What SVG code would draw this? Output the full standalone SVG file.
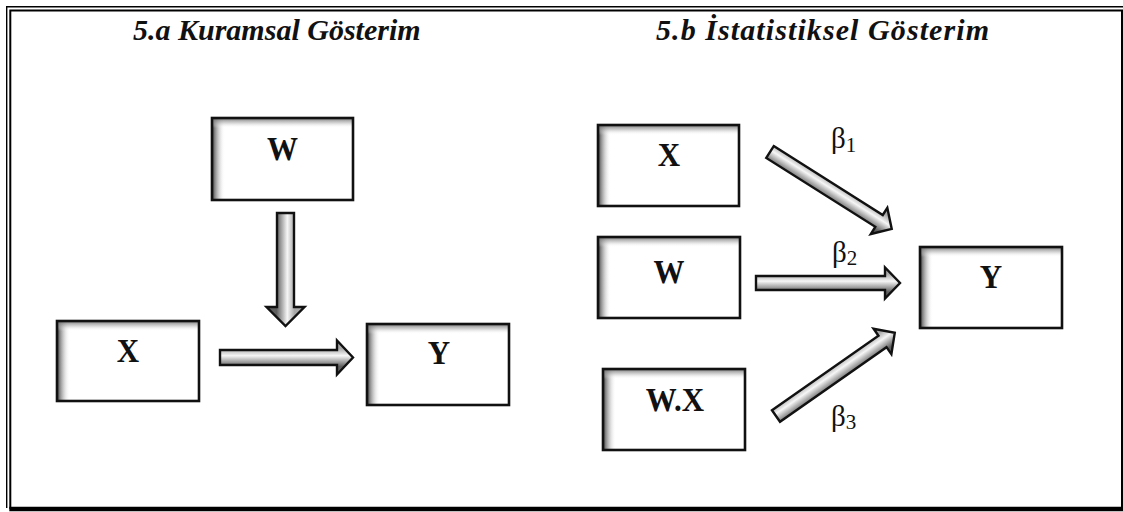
<svg xmlns="http://www.w3.org/2000/svg" width="1123" height="512" viewBox="0 0 1123 512">
  <style>
    .title { font-family: "Liberation Serif", "Times New Roman", serif; font-size: 30px; font-weight: bold; font-style: italic; fill: #111; }
    .lbl { font-family: "Liberation Serif", "Times New Roman", serif; font-size: 31px; font-weight: bold; fill: #111; text-anchor: middle; }
    .beta { font-family: "Liberation Serif", "Times New Roman", serif; font-size: 29px; fill: #111; }
    .sub { font-size: 21px; }
    .frame { fill: none; stroke: #000; }
    .box { fill: none; stroke: #111; stroke-width: 2.6; }
    .bg { fill: #fff; }
    .arrow { fill: url(#arrowFill); stroke: #111; stroke-width: 2.4; stroke-linejoin: miter; }
  </style>
  <defs>
    <linearGradient id="shadeL" x1="0" y1="0" x2="1" y2="0">
      <stop offset="0" stop-color="#333" stop-opacity="0.95"/>
      <stop offset="0.45" stop-color="#999" stop-opacity="0.6"/>
      <stop offset="1" stop-color="#fff" stop-opacity="0"/>
    </linearGradient>
    <linearGradient id="shadeT" x1="0" y1="0" x2="0" y2="1">
      <stop offset="0" stop-color="#666" stop-opacity="0.9"/>
      <stop offset="0.5" stop-color="#aaa" stop-opacity="0.5"/>
      <stop offset="1" stop-color="#fff" stop-opacity="0"/>
    </linearGradient>
    <!-- arrows are drawn pointing along +x, so this runs across the shaft -->
    <linearGradient id="arrowFill" gradientUnits="userSpaceOnUse" x1="0" y1="-9" x2="0" y2="9">
      <stop offset="0" stop-color="#a8a8a8"/>
      <stop offset="0.4" stop-color="#f6f6f6"/>
      <stop offset="1" stop-color="#5e5e5e"/>
    </linearGradient>
  </defs>

  <rect width="1123" height="512" fill="#fff"/>

  <!-- page border: thin outer line, thick inner line -->
  <path class="frame" stroke-width="1.4" d="M6.7,508 V6.7 H1123"/>
  <path class="frame" stroke-width="2" d="M10.3,509 V10.5 H1122 V509"/>
  <path class="frame" stroke-width="4.5" d="M9.3,509 H1123"/>

  <!-- titles -->
  <text class="title" x="133" y="40">5.a Kuramsal Gösterim</text>
  <text class="title" x="656" y="40" textLength="333" lengthAdjust="spacing">5.b İstatistiksel Gösterim</text>

  <!-- left panel nodes -->
  <g id="k-w">
    <rect class="bg" x="212" y="118" width="141" height="82"/>
    <rect x="212" y="118" width="13" height="82" fill="url(#shadeL)"/>
    <rect x="212" y="118" width="141" height="10" fill="url(#shadeT)"/>
    <rect class="box" x="212" y="118" width="141" height="82"/>
    <text class="lbl" transform="translate(282.5,160) scale(1,1.12)">W</text>
  </g>
  <g id="k-x">
    <rect class="bg" x="57" y="321" width="142" height="80"/>
    <rect x="57" y="321" width="13" height="80" fill="url(#shadeL)"/>
    <rect x="57" y="321" width="142" height="10" fill="url(#shadeT)"/>
    <rect class="box" x="57" y="321" width="142" height="80"/>
    <text class="lbl" transform="translate(128,362) scale(1,1.12)">X</text>
  </g>
  <g id="k-y">
    <rect class="bg" x="367" y="324" width="142" height="81"/>
    <rect x="367" y="324" width="13" height="81" fill="url(#shadeL)"/>
    <rect x="367" y="324" width="142" height="10" fill="url(#shadeT)"/>
    <rect class="box" x="367" y="324" width="142" height="81"/>
    <text class="lbl" transform="translate(439,364) scale(1,1.12)">Y</text>
  </g>

  <!-- right panel nodes -->
  <g id="s-x">
    <rect class="bg" x="598" y="125" width="141" height="81"/>
    <rect x="598" y="125" width="13" height="81" fill="url(#shadeL)"/>
    <rect x="598" y="125" width="141" height="10" fill="url(#shadeT)"/>
    <rect class="box" x="598" y="125" width="141" height="81"/>
    <text class="lbl" transform="translate(669,166) scale(1,1.12)">X</text>
  </g>
  <g id="s-w">
    <rect class="bg" x="598" y="237" width="142" height="81"/>
    <rect x="598" y="237" width="13" height="81" fill="url(#shadeL)"/>
    <rect x="598" y="237" width="142" height="10" fill="url(#shadeT)"/>
    <rect class="box" x="598" y="237" width="142" height="81"/>
    <text class="lbl" transform="translate(669,283) scale(1,1.12)">W</text>
  </g>
  <g id="s-wx">
    <rect class="bg" x="603" y="369" width="142" height="81"/>
    <rect x="603" y="369" width="13" height="81" fill="url(#shadeL)"/>
    <rect x="603" y="369" width="142" height="10" fill="url(#shadeT)"/>
    <rect class="box" x="603" y="369" width="142" height="81"/>
    <text class="lbl" transform="translate(675,411) scale(1,1.12)">W.X</text>
  </g>
  <g id="s-y">
    <rect class="bg" x="920" y="247" width="142" height="81"/>
    <rect x="920" y="247" width="13" height="81" fill="url(#shadeL)"/>
    <rect x="920" y="247" width="142" height="10" fill="url(#shadeT)"/>
    <rect class="box" x="920" y="247" width="142" height="81"/>
    <text class="lbl" transform="translate(991,288) scale(1,1.12)">Y</text>
  </g>

  <!-- block arrows -->
  <g id="connectors">
    <path class="arrow" transform="translate(285.5,213) rotate(90)" d="M0,-8.5 H94 V-19 L113,0 L94,19 V8.5 H0 Z"/>
    <path class="arrow" transform="translate(220,357.5)" d="M0,-7.5 H117 V-17 L133,0 L117,17 V7.5 H0 Z"/>
    <path class="arrow" transform="translate(770,152) rotate(32.3)" d="M0,-7 H129 V-15.5 L144,0 L129,15.5 V7 H0 Z"/>
    <path class="arrow" transform="translate(756,283)" d="M0,-7 H129 V-15.5 L144,0 L129,15.5 V7 H0 Z"/>
    <path class="arrow" transform="translate(776,416) rotate(-35)" d="M0,-7 H130 V-15.5 L145,0 L130,15.5 V7 H0 Z"/>
  </g>

  <!-- coefficient labels -->
  <text class="beta" x="831" y="148">β<tspan class="sub" dy="4">1</tspan></text>
  <text class="beta" x="832" y="262">β<tspan class="sub" dy="3">2</tspan></text>
  <text class="beta" x="831" y="426">β<tspan class="sub" dy="3">3</tspan></text>
</svg>
